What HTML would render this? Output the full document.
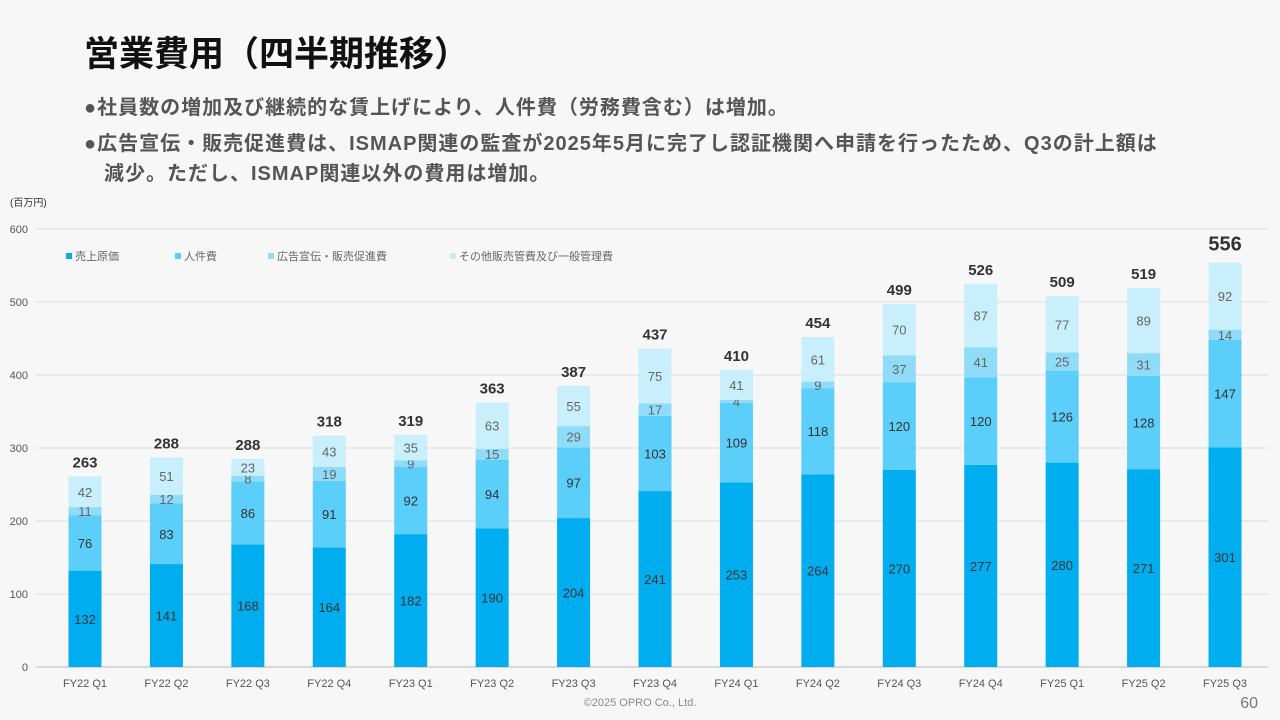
<!DOCTYPE html>
<html><head><meta charset="utf-8"><style>
body{margin:0;width:1280px;height:720px;background:#f7f7f7;font-family:"Liberation Sans","Noto Sans CJK JP",sans-serif;overflow:hidden;position:relative}
.t{position:absolute;left:84px;top:26px;font-size:35px;font-weight:bold;color:#111}
.b{position:absolute;left:84px;font-size:20px;font-weight:bold;color:#555;letter-spacing:1px;white-space:nowrap}
</style></head><body>
<div class="t">営業費用（四半期推移）</div>
<div class="b" style="top:91px">●社員数の増加及び継続的な賃上げにより、人件費（労務費含む）は増加。</div>
<div class="b" style="top:127px">●広告宣伝・販売促進費は、ISMAP関連の監査が2025年5月に完了し認証機関へ申請を行ったため、Q3の計上額は<br><span style="padding-left:20px;line-height:36px">減少。ただし、ISMAP関連以外の費用は増加。</span></div>
<svg id="c" width="1280" height="720" style="position:absolute;left:0;top:0"></svg>
<script>
const categories=["FY22 Q1","FY22 Q2","FY22 Q3","FY22 Q4","FY23 Q1","FY23 Q2","FY23 Q3","FY23 Q4","FY24 Q1","FY24 Q2","FY24 Q3","FY24 Q4","FY25 Q1","FY25 Q2","FY25 Q3"];
const costOfSales=[132,141,168,164,182,190,204,241,253,264,270,277,280,271,301];
const personnel=[76,83,86,91,92,94,97,103,109,118,120,120,126,128,147];
const advertising=[11,12,8,19,9,15,29,17,4,9,37,41,25,31,14];
const otherSGA=[42,51,23,43,35,63,55,75,41,61,70,87,77,89,92];
const totals=[263,288,288,318,319,363,387,437,410,454,499,526,509,519,556];
const yTicks=[0,100,200,300,400,500,600];
const seriesNames=["売上原価","人件費","広告宣伝・販売促進費","その他販売管費及び一般管理費"];
const NS="http://www.w3.org/2000/svg",svg=document.getElementById('c');
const y=v=>667-v*0.73, x=i=>85+i*81.43;
function el(t,a,txt){const e=document.createElementNS(NS,t);for(const k in a)e.setAttribute(k,a[k]);if(txt!=null)e.textContent=txt;svg.appendChild(e);return e;}
const colors=["#00aeef","#5bcefa","#8fdcf8","#c9eefc"];
const series=[costOfSales,personnel,advertising,otherSGA];
yTicks.forEach(t=>{
 const g=el('line',{x1:36,x2:1268,y1:y(t),y2:y(t),stroke:t?'#dcdcdc':'#bbb','stroke-width':1});
 
 
 const l=el('text',{x:28,y:y(t)+4,'text-anchor':'end','font-size':11,fill:'#555'},t);
 
 
});
const u=el('text',{x:10,y:206,'font-size':10,fill:'#333'},'(百万円)');


const lx=[66,175,268,450];
seriesNames.forEach((n,i)=>{
 const r=el('rect',{x:lx[i],y:253,width:6,height:6,fill:colors[i]});
 
 
 const t=el('text',{x:lx[i]+9,y:260,'font-size':11,fill:'#666'},n);
 
 
});
categories.forEach((c,i)=>{
 let base=0;
 series.forEach((s,k)=>{
  const v=s[i];
  const r=el('rect',{x:x(i)-16.5,y:y(base+v),width:33,height:v*0.73,fill:colors[k]});
  
  
  const t=el('text',{x:x(i),y:y(base+v/2)+5,'text-anchor':'middle','font-size':13,fill:k<2?'#333':'#666'},v);
  
  
  base+=v;
 });
 const big=i==14;
 const tt=el('text',{x:x(i),y:y(base)-(big?12:9),'text-anchor':'middle','font-size':big?20:15,'font-weight':'bold',fill:'#333'},totals[i]);
 
 
 const xl=el('text',{x:x(i),y:687,'text-anchor':'middle','font-size':11,fill:'#555'},c);
 
 
});
const f=el('text',{x:640,y:706,'text-anchor':'middle','font-size':11,fill:'#888'},'©2025 OPRO Co., Ltd.');


const p=el('text',{x:1258,y:708,'text-anchor':'end','font-size':16,fill:'#777'},'60');


</script>
</body></html>
